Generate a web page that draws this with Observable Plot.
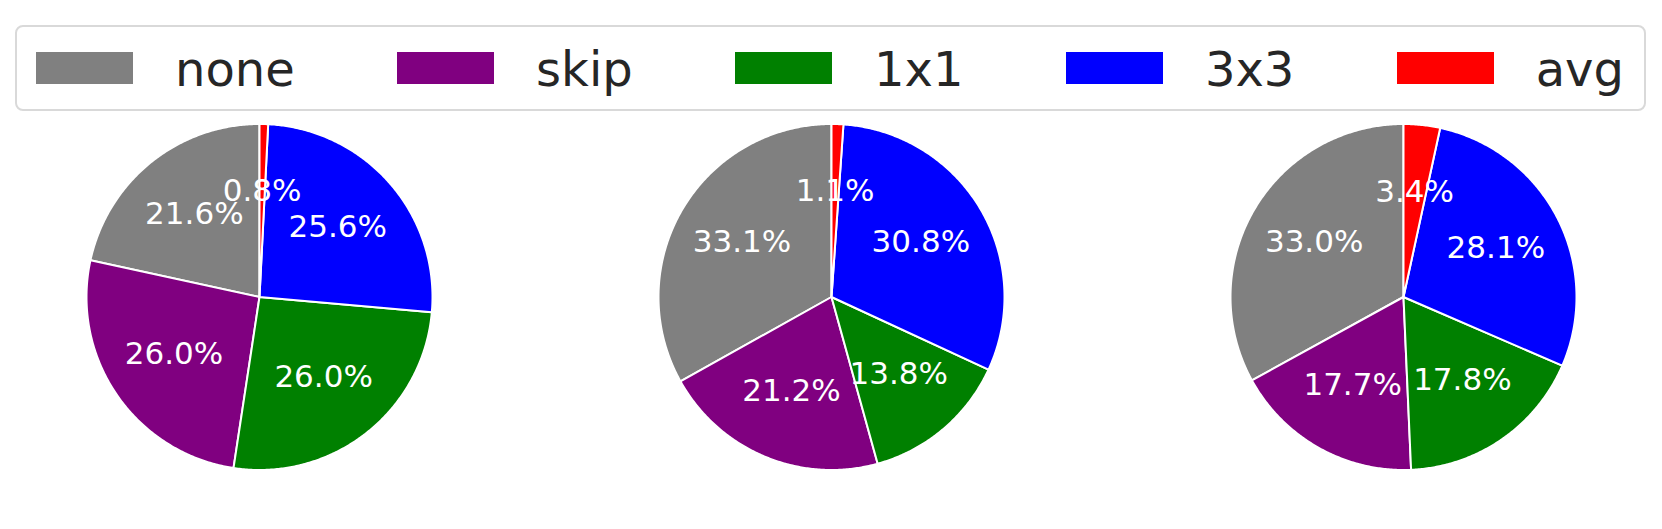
<!DOCTYPE html>
<html>
<head>
<meta charset="utf-8">
<script src="https://cdn.jsdelivr.net/npm/d3@7"></script>
<script src="https://cdn.jsdelivr.net/npm/@observablehq/plot@0.6"></script>
<style>
  html, body { margin: 0; padding: 0; background: #fff; overflow: hidden; }
  body { width: 1662px; height: 529px; font-family: "DejaVu Sans", sans-serif; }
  #legendWrap { position: relative; width: 1662px; height: 115px; }
  #legend {
    position: absolute; left: 15px; top: 25px; width: 1631px; height: 86px;
    box-sizing: border-box; border: 2px solid #d9d9d9; border-radius: 8px;
    display: flex; align-items: center; justify-content: space-between;
    padding: 0 20px 0 19px;
  }
  .item { display: flex; align-items: center; }
  .sw { width: 97px; height: 32px; margin-right: 42px; }
  .lbl { font-size: 48px; line-height: 1; color: #262626; white-space: nowrap; margin-top: 2px; }
</style>
</head>
<body>
<div id="legendWrap"><div id="legend"></div></div>
<div id="chart"></div>
<script>
// ---- data ----
const categories = ["none", "skip", "1x1", "3x3", "avg"];
const colors = ["gray", "purple", "green", "blue", "red"];
const pie1 = [21.6, 26.0, 26.0, 25.6, 0.8];
const pie2 = [33.1, 21.2, 13.8, 30.8, 1.1];
const pie3 = [33.0, 17.7, 17.8, 28.1, 3.4];
const pies = [pie1, pie2, pie3];

// ---- layout (pixels) ----
const W = 1662, H = 414;
const R_PX = 173;            // pie radius
const CX0_PX = 259;          // first pie centre
const STEP_PX = 572;         // distance between pie centres
const CY_PX = 181.5;         // pie centre from top of svg
const PCT_DIST = 0.6;        // label distance (fraction of radius)

// legend
const legend = document.getElementById("legend");
categories.forEach((c, i) => {
  const it = document.createElement("div");
  it.className = "item";
  const sw = document.createElement("div");
  sw.className = "sw";
  sw.style.background = colors[i];
  const lb = document.createElement("div");
  lb.className = "lbl";
  lb.textContent = c;
  it.appendChild(sw); it.appendChild(lb);
  legend.appendChild(it);
});

// ---- geometry in radius units ----
const step = STEP_PX / R_PX;
const wedges = [];
const labels = [];
pies.forEach((vals, p) => {
  const cx = p * step, cy = 0;
  const total = d3.sum(vals);
  let acc = 0;
  vals.forEach((v, k) => {
    const a0 = 90 + 360 * acc / total;
    const a1 = 90 + 360 * (acc + v) / total;
    acc += v;
    const id = p + "-" + k;
    wedges.push({id, color: colors[k], x: cx, y: cy});
    const n = Math.max(2, Math.ceil((a1 - a0) / 0.5));
    for (let j = 0; j <= n; j++) {
      const a = (a0 + (a1 - a0) * j / n) * Math.PI / 180;
      wedges.push({id, color: colors[k], x: cx + Math.cos(a), y: cy + Math.sin(a)});
    }
    wedges.push({id, color: colors[k], x: cx, y: cy});
    const am = ((a0 + a1) / 2) * Math.PI / 180;
    labels.push({
      x: cx + PCT_DIST * Math.cos(am),
      y: cy + PCT_DIST * Math.sin(am),
      text: (100 * v / total).toFixed(1) + "%"
    });
  });
});

const chart = Plot.plot({
  width: W,
  height: H,
  margin: 0,
  style: {fontFamily: "DejaVu Sans, sans-serif", background: "white"},
  x: {domain: [-CX0_PX / R_PX, (W - CX0_PX) / R_PX], axis: null},
  y: {domain: [-(H - CY_PX) / R_PX, CY_PX / R_PX], axis: null},
  color: {type: "identity"},
  marks: [
    Plot.line(wedges, {
      x: "x", y: "y", z: "id",
      fill: "color", stroke: "white", strokeWidth: 2,
      strokeLinejoin: "round", curve: "linear"
    }),
    Plot.text(labels, {
      x: "x", y: "y", text: "text",
      fill: "white", fontSize: 31, dy: -2,
      textAnchor: "middle", lineAnchor: "middle"
    })
  ]
});
document.getElementById("chart").appendChild(chart);
</script>
</body>
</html>
